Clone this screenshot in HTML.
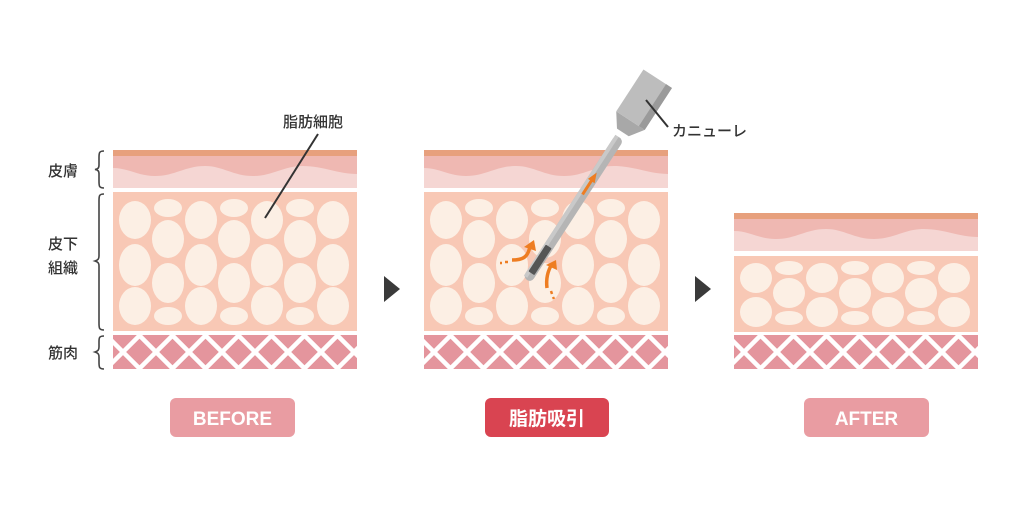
<!DOCTYPE html>
<html><head><meta charset="utf-8"><style>
html,body{margin:0;padding:0;background:#fff;width:1024px;height:506px;overflow:hidden}
svg{display:block}
text{font-family:"Liberation Sans","Noto Sans CJK JP",sans-serif}
</style></head><body>
<svg width="1024" height="506" viewBox="0 0 1024 506" xmlns="http://www.w3.org/2000/svg">
<defs>
  <clipPath id="mc"><rect x="0" y="0" width="244" height="34"/></clipPath>
  <g id="muscle">
    <rect x="0" y="0" width="244" height="34" fill="#e4959d"/>
    <g clip-path="url(#mc)" stroke="#fff" stroke-width="4.5">
      <path d="M-40 34 L-6 0 M-7 34 L27 0 M26 34 L60 0 M59 34 L93 0 M92 34 L126 0 M125 34 L159 0 M158 34 L192 0 M191 34 L225 0 M224 34 L258 0 M257 34 L291 0"/>
      <path d="M-40 0 L-6 34 M-7 0 L27 34 M26 0 L60 34 M59 0 L93 34 M92 0 L126 34 M125 0 L159 34 M158 0 L192 34 M191 0 L225 34 M224 0 L258 34"/>
    </g>
  </g>
  <g id="skin">
    <rect x="0" y="0" width="244" height="38" fill="#f5d6d3"/>
    <path d="M0 6 H244 V24 C225 24 210 16 190 16 C170 16 160 26 140 26 C120 26 110 16 92 16 C72 16 62 26 42 26 C25 26 15 18 0 18 Z" fill="#efb8b2"/>
    <rect x="0" y="0" width="244" height="6" fill="#e7a07d"/>
  </g>
  <g id="fat">
    <rect x="0" y="0" width="244" height="139" fill="#f8c8b5"/>
    <g fill="#fcefe4">
      <ellipse cx="22" cy="28" rx="16" ry="19"/><ellipse cx="22" cy="73" rx="16" ry="21"/><ellipse cx="22" cy="114" rx="16" ry="19"/>
      <ellipse cx="55" cy="16" rx="14" ry="9"/><ellipse cx="55" cy="47" rx="16" ry="19"/><ellipse cx="55" cy="91" rx="16" ry="20"/><ellipse cx="55" cy="124" rx="14" ry="9"/>
      <ellipse cx="88" cy="28" rx="16" ry="19"/><ellipse cx="88" cy="73" rx="16" ry="21"/><ellipse cx="88" cy="114" rx="16" ry="19"/>
      <ellipse cx="121" cy="16" rx="14" ry="9"/><ellipse cx="121" cy="47" rx="16" ry="19"/><ellipse cx="121" cy="91" rx="16" ry="20"/><ellipse cx="121" cy="124" rx="14" ry="9"/>
      <ellipse cx="154" cy="28" rx="16" ry="19"/><ellipse cx="154" cy="73" rx="16" ry="21"/><ellipse cx="154" cy="114" rx="16" ry="19"/>
      <ellipse cx="187" cy="16" rx="14" ry="9"/><ellipse cx="187" cy="47" rx="16" ry="19"/><ellipse cx="187" cy="91" rx="16" ry="20"/><ellipse cx="187" cy="124" rx="14" ry="9"/>
      <ellipse cx="220" cy="28" rx="16" ry="19"/><ellipse cx="220" cy="73" rx="16" ry="21"/><ellipse cx="220" cy="114" rx="16" ry="19"/>
    </g>
  </g>
  <g id="fat2">
    <rect x="0" y="0" width="244" height="76" fill="#f8c8b5"/>
    <g fill="#fcefe4">
      <ellipse cx="22" cy="22" rx="16" ry="15"/><ellipse cx="22" cy="56" rx="16" ry="15"/>
      <ellipse cx="55" cy="12" rx="14" ry="7"/><ellipse cx="55" cy="37" rx="16" ry="15"/><ellipse cx="55" cy="62" rx="14" ry="7"/>
      <ellipse cx="88" cy="22" rx="16" ry="15"/><ellipse cx="88" cy="56" rx="16" ry="15"/>
      <ellipse cx="121" cy="12" rx="14" ry="7"/><ellipse cx="121" cy="37" rx="16" ry="15"/><ellipse cx="121" cy="62" rx="14" ry="7"/>
      <ellipse cx="154" cy="22" rx="16" ry="15"/><ellipse cx="154" cy="56" rx="16" ry="15"/>
      <ellipse cx="187" cy="12" rx="14" ry="7"/><ellipse cx="187" cy="37" rx="16" ry="15"/><ellipse cx="187" cy="62" rx="14" ry="7"/>
      <ellipse cx="220" cy="22" rx="16" ry="15"/><ellipse cx="220" cy="56" rx="16" ry="15"/>
    </g>
  </g>
</defs>

<use href="#skin" x="113" y="150"/>
<use href="#fat" x="113" y="192"/>
<use href="#muscle" x="113" y="335"/>
<use href="#skin" x="424" y="150"/>
<use href="#fat" x="424" y="192"/>
<use href="#muscle" x="424" y="335"/>
<use href="#skin" x="734" y="213"/>
<use href="#fat2" x="734" y="256"/>
<use href="#muscle" x="734" y="335"/>

<g fill="none" stroke="#444" stroke-width="1.6">
  <path d="M104 151 C99 151 99 153 99 158 V165 C99 168 98 169 95 169.5 C98 170 99 171 99 174 V181 C99 186 99 188 104 188"/>
  <path d="M104 194 C99 194 99 196 99 201 V256 C99 259 98 260 95 261 C98 262 99 263 99 266 V323 C99 328 99 330 104 330"/>
  <path d="M104 336 C99 336 99 338 99 342 V347 C99 350 98 351 95 352 C98 353 99 354 99 357 V362 C99 367 99 369 104 369"/>
</g>
<g fill="#333" font-size="15" font-weight="500">
  <text x="48" y="176">皮膚</text>
  <text x="48" y="249">皮下</text>
  <text x="48" y="273">組織</text>
  <text x="48" y="358">筋肉</text>
  <text x="283" y="127">脂肪細胞</text>
  <text x="672" y="136">カニューレ</text>
</g>
<line x1="318" y1="134" x2="265" y2="218" stroke="#333" stroke-width="2"/>

<polygon points="384,276 400,289 384,302" fill="#3a3a3a"/>
<polygon points="695,276 711,289 695,302" fill="#3a3a3a"/>

<g fill="none" stroke="#ee7d22" stroke-width="3.5">
  <path d="M512 260 C522 260 528 258 530 246"/>
  <path d="M547 288 C546 280 547 272 552 264"/>
  <path d="M505 262 L508 262 M500 263 L502 263" stroke-width="2.5"/>
  <path d="M551 291 L552 294 M553 297 L554 299" stroke-width="2.5"/>
</g>
<polygon points="524,247 534,240 536,251" fill="#ee7d22"/>
<polygon points="546,265 556,260 557,270" fill="#ee7d22"/>

<g transform="translate(527,280) rotate(33)">
  <rect x="-5" y="-170" width="10" height="170" rx="5" fill="#b5b5b5"/>
  <rect x="-5" y="-170" width="4" height="168" fill="#c9c9c9"/>
  <rect x="-3.5" y="-40" width="7" height="32" rx="1" fill="#555"/>
  <rect x="-1.5" y="-120" width="3" height="18" fill="#ee7d22"/>
  <polygon points="0,-128 -4,-118 4,-118" fill="#ee7d22"/>
  <rect x="-6" y="-176" width="12" height="6" fill="#fff"/>
  <polygon points="-7,-176 7,-176 17,-190 -17,-190" fill="#a8a8a8"/>
  <rect x="-17" y="-240" width="34" height="50" fill="#bdbdbd"/>
  <rect x="10" y="-240" width="7" height="50" fill="#9a9a9a"/>
</g>
<line x1="646" y1="100" x2="668" y2="127" stroke="#333" stroke-width="2"/>

<rect x="170" y="398" width="125" height="39" rx="6" fill="#e99ca2"/>
<text x="232.5" y="425" text-anchor="middle" fill="#fff" font-size="19" font-weight="bold">BEFORE</text>
<rect x="485" y="398" width="124" height="39" rx="6" fill="#d94451"/>
<text x="547" y="425" text-anchor="middle" fill="#fff" font-size="19" font-weight="bold">脂肪吸引</text>
<rect x="804" y="398" width="125" height="39" rx="6" fill="#e99ca2"/>
<text x="866.5" y="425" text-anchor="middle" fill="#fff" font-size="19" font-weight="bold">AFTER</text>
</svg>
</body></html>
